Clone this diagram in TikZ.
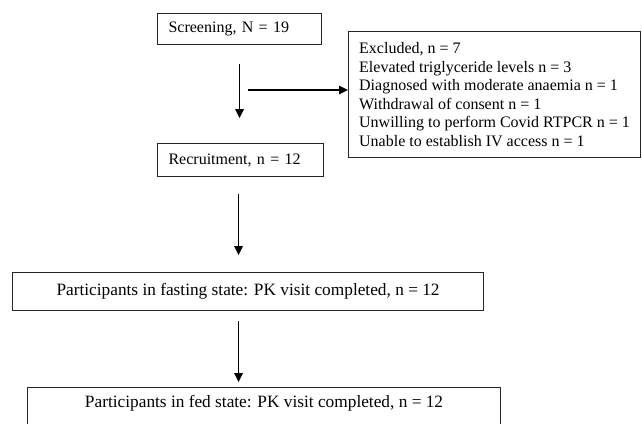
\documentclass[tikz,border=0pt]{standalone}
\usepackage{fontspec}
\setmainfont{Liberation Serif}
\usetikzlibrary{arrows.meta}
\begin{document}
\begin{tikzpicture}[x=1pt,y=-1pt,
  box/.style={draw=black!85, line width=1.1pt, rectangle, font=\fontsize{16}{18.6}\selectfont},
  bigbox/.style={box, font=\fontsize{17.3}{20}\selectfont},
  arr/.style={draw=black, line width=1.4pt, -{Triangle[length=9pt,width=8.5pt]}}]
\useasboundingbox (0,0) rectangle (642,423);
\clip (0,0) rectangle (642,423);
\fill[white] (0,0) rectangle (642,423);
% boxes
\node[box, anchor=north west, text width=142pt, inner xsep=11pt, inner ysep=0pt,
      minimum height=31pt, align=left] (scr) at (157,13) {Screening, N = 19};
\node[box, anchor=north west, minimum width=292pt, minimum height=126pt, inner xsep=10pt,
      align=left] (excl) at (348,31)
  {Excluded, n = 7\\
   Elevated triglyceride levels n = 3\\
   Diagnosed with moderate anaemia n = 1\\
   Withdrawal of consent n = 1\\
   Unwilling to perform Covid RTPCR n = 1\\
   Unable to establish IV access n = 1};
\node[box, anchor=north west, text width=144pt, inner xsep=11pt, inner ysep=0pt,
      minimum height=33pt, align=left] (rec) at (157,143) {Recruitment, n = 12};
\node[bigbox, anchor=north west, minimum width=471pt, minimum height=38pt, inner ysep=0pt,
      align=center] (fast) at (12,272) {Participants in fasting state: PK visit completed, n = 12};
\node[bigbox, anchor=north west, minimum width=473pt, inner ysep=5pt, text height=15pt,
      text depth=22pt, align=center] (fed) at (27,387) {Participants in fed state: PK visit completed, n = 12};
% connectors
\draw[arr, shorten <=19pt, shorten >=25pt] (scr.south) -- (scr.south |- rec.north);
\coordinate (hstart) at (248,90);
\draw[arr] (hstart) -- (hstart -| excl.west);
\draw[arr, shorten <=17pt, shorten >=17pt] ([xshift=-2pt]rec.south) -- ([xshift=-2pt]rec.south |- fast.north);
\draw[arr, shorten <=10pt, shorten >=5pt] ([xshift=-2pt]rec.south |- fast.south) -- ([xshift=-2pt]rec.south |- fed.north);
\end{tikzpicture}
\end{document}
